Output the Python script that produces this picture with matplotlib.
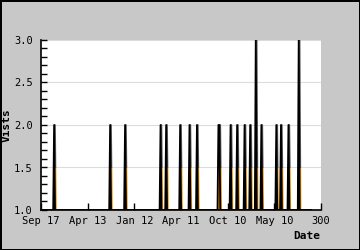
import matplotlib
matplotlib.use("Agg")
import matplotlib.pyplot as plt
from matplotlib.ticker import MultipleLocator, FixedLocator
from matplotlib.patches import Rectangle

# Daily visits (index = day position); most days at baseline 1
visits = [
    1,1,1,1,1,1,1,1,1,1, 1,1,1,1,2,1,1,1,1,1, 1,1,1,1,1,1,1,1,1,1,
    1,1,1,1,1,1,1,1,1,1, 1,1,1,1,1,1,1,1,1,1, 1,1,1,1,1,1,1,1,1,1,
    1,1,1,1,1,1,1,1,1,1, 1,1,1,1,2,1,1,1,1,1, 1,1,1,1,1,1,1,1,1,1,
    2,1,1,1,1,1,1,1,1,1, 1,1,1,1,1,1,1,1,1,1, 1,1,1,1,1,1,1,1,1,1,
    1,1,1,1,1,1,1,1,2,1, 1,1,1,1,2,1,1,1,1,1, 1,1,1,1,1,1,1,1,1,2,
    1,1,1,1,1,1,1,1,1,2, 1,1,1,1,1,1,1,2,1,1, 1,1,1,1,1,1,1,1,1,1,
    1,1,1,1,1,1,1,1,1,1, 2,2,1,1,1,1,1,1,1,1, 1,1,1,2,1,1,1,1,1,1,
    2,1,1,1,1,1,1,1,2,1, 1,1,1,1,2,1,1,1,1,1, 3,1,1,1,1,1,2,1,1,1,
    1,1,1,1,1,1,1,1,1,1, 1,1,2,1,1,1,1,2,1,1, 1,1,1,1,1,2,1,1,1,1,
    1,1,1,1,1,1,3,1,1,1, 1,1,1,1,1,1,1,1,1,1,
]
tick_positions = [0, 50, 100, 150, 200, 250, 300]
tick_labels = ["Sep 17", "Apr 13", "Jan 12", "Apr 11", "Oct 10", "May 10", "300"]

days = list(range(len(visits)))
shifted = [d + 0.9 for d in days]

fig = plt.figure(figsize=(3.6, 2.5), dpi=100, facecolor="#c8c8c8",
                 edgecolor="black", linewidth=2)
ax = fig.add_axes([0.114, 0.16, 0.778, 0.68])
ax.set_facecolor("white")

# shaded area: orange in the lower part, dark grey above
low = ax.fill_between(shifted, 0, visits, color="#f29400", linewidth=1.3,
                      edgecolor="#f29400")
low.set_clip_path(Rectangle((0, 1.0), 300, 0.5, transform=ax.transData))
up = ax.fill_between(shifted, 0, visits, color="#606060", linewidth=1.3,
                     edgecolor="#606060")
up.set_clip_path(Rectangle((0, 1.5), 300, 1.5, transform=ax.transData))
ax.plot(days, visits, color="black", linewidth=1.3)

ax.set_xlim(0, 300)
ax.set_ylim(1.0, 3.0)

mono = "DejaVu Sans Mono"
ax.xaxis.set_major_locator(FixedLocator(tick_positions))
ax.set_xticklabels(tick_labels, fontsize=7.5, family=mono)
ax.yaxis.set_minor_locator(MultipleLocator(0.1))
ax.set_yticks([1.0, 1.5, 2.0, 2.5, 3.0])
ax.set_yticklabels(["1.0", "1.5", "2.0", "2.5", "3.0"], fontsize=7.5, family=mono)

ax.tick_params(axis="x", direction="in", length=5, width=1, pad=4, colors="black")
ax.tick_params(axis="y", which="major", direction="in", length=4, width=1, pad=6)
ax.tick_params(axis="y", which="minor", direction="in", length=4, width=1)

ax.grid(axis="y", which="major", color="#dcdcdc", linewidth=0.8)
ax.set_axisbelow(True)

for s in ["top", "right"]:
    ax.spines[s].set_visible(False)
for s in ["left", "bottom"]:
    ax.spines[s].set_linewidth(1.2)

fig.text(0.004, 0.5, "Vists", rotation=90, ha="left", va="center",
         fontsize=8, fontweight="bold", family=mono)
fig.text(0.89, 0.055, "Date", ha="right", va="center",
         fontsize=8, fontweight="bold", family=mono)

fig.savefig("out.png", dpi=100, facecolor=fig.get_facecolor(), edgecolor="black")
